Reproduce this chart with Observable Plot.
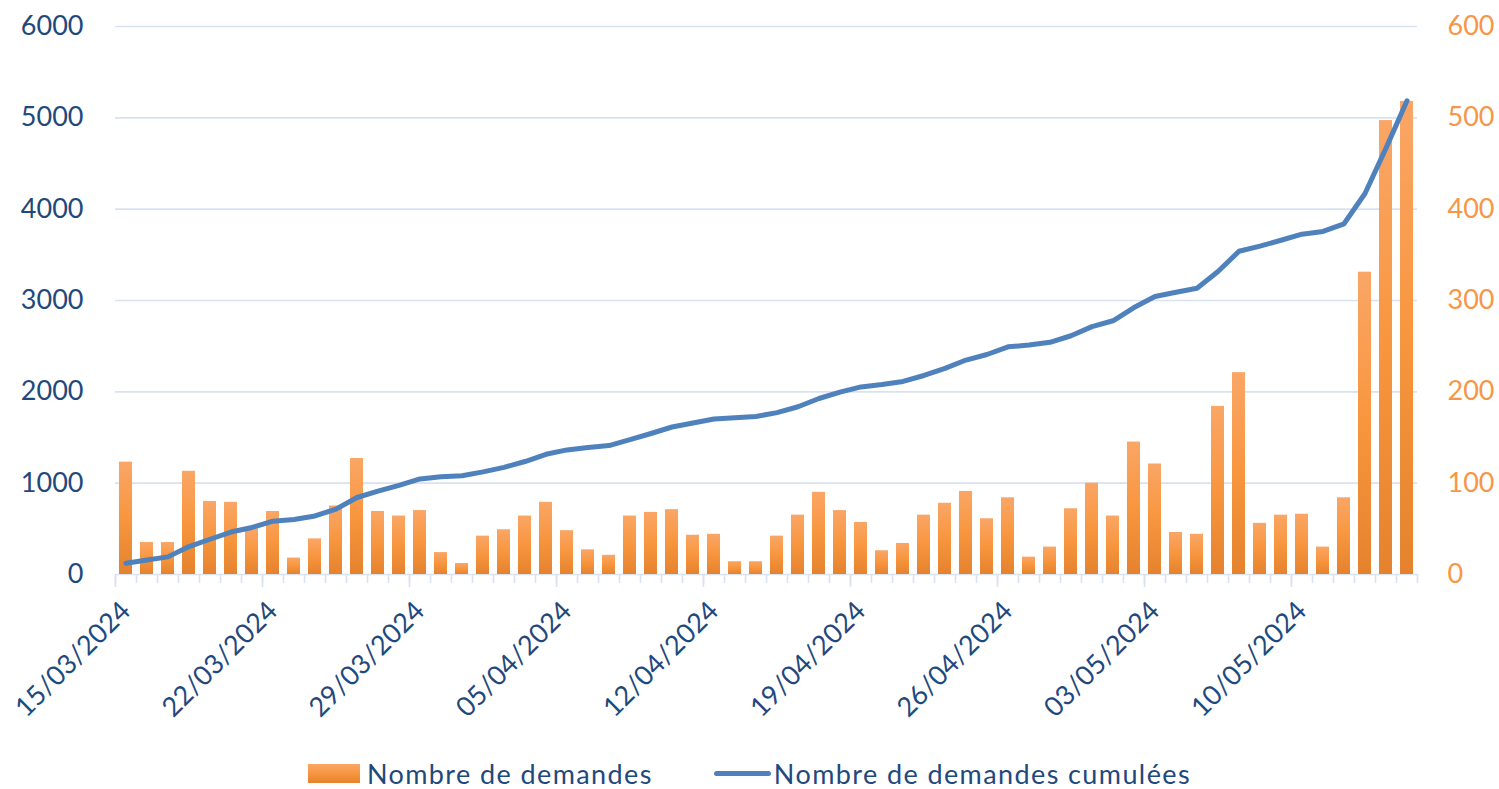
<!DOCTYPE html>
<html><head><meta charset="utf-8">
<script src="https://cdn.jsdelivr.net/npm/d3@7"></script>
<script src="https://cdn.jsdelivr.net/npm/@observablehq/plot@0.6"></script>
<style>
body{margin:0;background:#fff;font-family:Lato,sans-serif;}
#wrap{position:relative;width:1499px;height:789px;}
#wrap svg{position:absolute;left:0;top:0;}
#legend{position:absolute;left:0;top:759px;width:1499px;height:29px;display:flex;justify-content:center;align-items:center;font-size:27px;line-height:29px;letter-spacing:1.4px;color:#1F497D;}
#legend .sw-bar{display:inline-block;width:52px;height:19px;background:linear-gradient(#FAA666,#F8963F 50%,#E5822E);margin-right:7px;}
#legend .sw-line{display:inline-block;width:57px;height:5px;border-radius:3px;background:#4F81BD;margin-left:61px;margin-right:3px;}
</style></head><body>
<div id="wrap"><div id="legend"><span class="sw-bar"></span><span>Nombre de demandes</span><span class="sw-line"></span><span>Nombre de demandes cumulées</span></div></div>
<script>
// ---- data ----
const startDate = "2024-03-15";
const endDate = "2024-05-15";
const demandes = [123,35,35,113,80,79,50,69,18,39,75,127,69,64,70,24,12,42,49,64,79,48,27,21,64,68,71,43,44,14,14,42,65,90,70,57,26,34,65,78,91,61,84,19,30,72,100,64,145,121,46,44,184,221,56,65,66,30,84,331,497,518];
const cumulees = [123,158,193,306,386,465,515,584,602,641,716,843,912,976,1046,1070,1082,1124,1173,1237,1316,1364,1391,1412,1476,1544,1615,1658,1702,1716,1730,1772,1837,1927,1997,2054,2080,2114,2179,2257,2348,2409,2493,2512,2542,2614,2714,2778,2923,3044,3090,3134,3318,3539,3595,3660,3726,3756,3840,4171,4668,5186];
const tickLabels = ["15/03/2024","22/03/2024","29/03/2024","05/04/2024","12/04/2024","19/04/2024","26/04/2024","03/05/2024","10/05/2024"];
const leftTicks = [0,1000,2000,3000,4000,5000,6000];
const rightTicks = [0,100,200,300,400,500,600];

(function () {
const fmt = d3.utcFormat("%d/%m/%Y");
const cats = d3.utcDay.range(new Date(startDate), d3.utcDay.offset(new Date(endDate), 1)).map(fmt);
const data = cats.map((c, i) => ({date: c, n: demandes[i], cum: cumulees[i]}));
const weekly = cats.filter(c => tickLabels.includes(c));

const W = 1499, H = 745, mL = 115, mR = 82, mT = 26, mB = 171;
const xOpts = {type: "band", domain: cats, paddingInner: 0.38, paddingOuter: 0.19, align: 0.5};
const xs = Plot.scale({x: {...xOpts, range: [mL, W - mR]}});
const step = xs.step ?? (W - mL - mR) / cats.length;
const navy = "#1F497D", orange = "#F79646", grid = "#D9E2F1";
const common = {width: W, height: H, marginLeft: mL, marginRight: mR, marginTop: mT, marginBottom: mB,
  style: {fontFamily: "Lato, sans-serif", background: "transparent", overflow: "visible"}};

const barsPlot = Plot.plot({
  ...common,
  x: {...xOpts, axis: null, label: null},
  y: {domain: [0, 600], axis: null, label: null},
  marks: [
    Plot.ruleY(rightTicks, {stroke: grid, strokeWidth: 1.6}),
    Plot.axisX({ticks: cats, tickSize: 9, tickFormat: () => "", label: null, stroke: grid, strokeWidth: 1.6, dx: -step / 2}),
    Plot.axisX({ticks: [cats[cats.length - 1]], tickSize: 9, tickFormat: () => "", label: null, stroke: grid, strokeWidth: 1.6, dx: step / 2}),
    Plot.axisX({ticks: weekly, tickSize: 13, tickFormat: () => "", label: null, stroke: grid, strokeWidth: 1.6, dx: -step / 2}),
    Plot.barY(data, {x: "date", y: "n", fill: "url(#barGrad)"}),
    Plot.axisX({ticks: tickLabels, tickSize: 0, tickPadding: 32, tickRotate: -45, label: null, fontSize: 27, fill: navy}),
    Plot.axisY({anchor: "right", ticks: rightTicks, tickSize: 0, tickPadding: 30, label: null, tickFormat: d => String(d), fontSize: 27, fill: orange})
  ]
});
const defs = d3.select(barsPlot).insert("defs", ":first-child");
const g = defs.append("linearGradient").attr("id", "barGrad").attr("x1", 0).attr("y1", 0).attr("x2", 0).attr("y2", 1);
g.append("stop").attr("offset", "0%").attr("stop-color", "#FAA666");
g.append("stop").attr("offset", "50%").attr("stop-color", "#F8963F");
g.append("stop").attr("offset", "100%").attr("stop-color", "#E5822E");

const linePlot = Plot.plot({
  ...common,
  x: {...xOpts, axis: null, label: null},
  y: {domain: [0, 6000], axis: null, label: null},
  marks: [
    Plot.axisY({anchor: "left", ticks: leftTicks, tickSize: 0, tickPadding: 32, label: null, tickFormat: d => String(d), fontSize: 27, fill: navy}),
    Plot.line(data, {x: "date", y: "cum", stroke: "#4F81BD", strokeWidth: 5, strokeLinejoin: "round", strokeLinecap: "round"})
  ]
});
const wrap = document.getElementById("wrap");
wrap.insertBefore(linePlot, wrap.firstChild);
wrap.insertBefore(barsPlot, wrap.firstChild);
})();
</script>
</body></html>
